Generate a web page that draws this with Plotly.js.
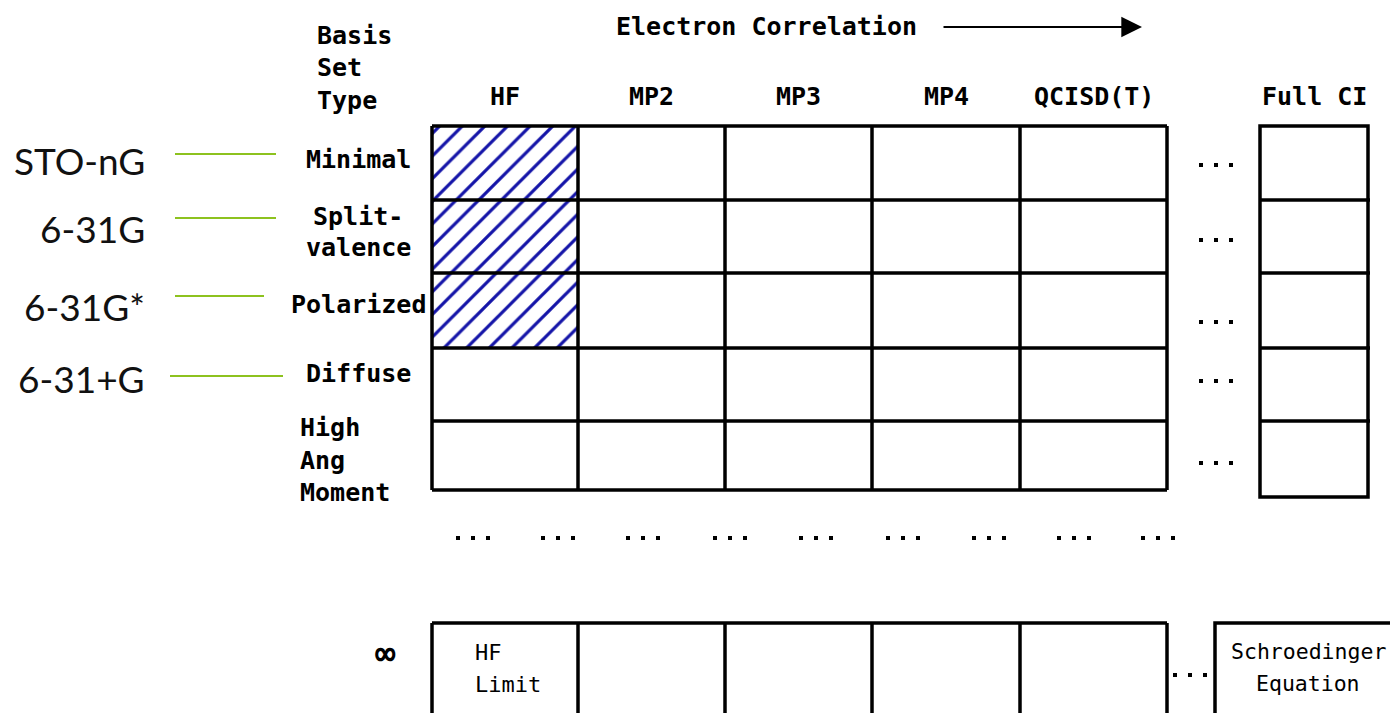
<!DOCTYPE html>
<html>
<head>
<meta charset="utf-8">
<script src="https://cdn.plot.ly/plotly-3.0.1.min.js"></script>
<style>html,body{margin:0;padding:0;background:#fff;}#chart{width:1390px;height:713px;}</style>
</head>
<body>
<div id="chart"></div>
<script>
// ---- content ----
const axisTitle = 'Electron Correlation';
const rowHeaderLines = ['Basis', 'Set', 'Type'];
const methods = ['HF', 'MP2', 'MP3', 'MP4', 'QCISD(T)'];
const limitMethod = 'Full CI';
const basisTypes = ['Minimal', 'Split-<br>valence', 'Polarized', 'Diffuse', 'High<br>Ang<br>Moment'];
const basisSetNames = ['STO-nG', '6-31G', '6-31G*', '6-31+G'];
const hatchedRows = [0, 1, 2];
const hatchedCols = [0, 0, 0];
const limitRowLabel = '\u221E';
const limitCellText = ['HF<br>Limit', '', '', '', ''];
const exactText = 'Schroedinger<br>Equation';

// ---- geometry (pixel-space axes) ----
const W = 1390, H = 713;
const colEdges = [432, 578, 725, 872, 1020, 1167];
const rowEdges = [126, 200, 273, 348, 421, 490];
const fullCI = {x0: 1260, x1: 1368, y0: 126, y1: 497};
const limitTop = 623;
const exactBox = {x0: 1215, x1: 1410};
const rowLabelY = [159, 232, 304, 373, 460];
const basisSetY = [160, 228, 306, 378];
const greenLines = [[175, 276, 154], [175, 276, 218], [175, 264, 296], [170, 283, 376]];
const sideDotsY = [165, 240, 322, 381, 463];
const midDotsX = [473, 558, 643, 730, 816, 903, 989, 1074, 1158];

const pix = "'DejaVu Sans Mono', 'Liberation Mono', monospace";
const shapes = [], annotations = [];
const LW = 3.5;
function line(x0, y0, x1, y1, color, w) {
  shapes.push({type: 'line', xref: 'x', yref: 'y', x0, y0, x1, y1, line: {color: color || '#000', width: w || LW}});
}
function text(x, y, t, size, opts) {
  opts = opts || {};
  const lines = t.split('<br>');
  const gap = opts.gap || size * 1.3;
  const start = y - gap * (lines.length - 1) / 2;
  lines.forEach((ln, i) => {
    annotations.push({xref: 'x', yref: 'y', x, y: start + i * gap, text: ln, showarrow: false,
      xanchor: opts.xanchor || 'center', yanchor: 'middle',
      font: {family: opts.family || pix, size, color: opts.color || '#000', weight: opts.weight || 'bold'}});
  });
}

// main grid
colEdges.forEach(x => line(x, rowEdges[0], x, rowEdges[rowEdges.length - 1]));
rowEdges.forEach(y => line(colEdges[0], y, colEdges[colEdges.length - 1], y));
// full CI column
shapes.push({type: 'rect', xref: 'x', yref: 'y', x0: fullCI.x0, x1: fullCI.x1, y0: fullCI.y0, y1: fullCI.y1, line: {color: '#000', width: LW}});
rowEdges.slice(1, -1).forEach(y => line(fullCI.x0, y, fullCI.x1 + 2, y));
// limit row
line(colEdges[0], limitTop, colEdges[colEdges.length - 1], limitTop);
colEdges.forEach(x => line(x, limitTop, x, H + 10));
shapes.push({type: 'rect', xref: 'x', yref: 'y', x0: exactBox.x0, x1: exactBox.x1, y0: limitTop, y1: H + 10, line: {color: '#000', width: LW}});
// green connectors
greenLines.forEach(g => line(g[0], g[2], g[1], g[2], '#8dc21f', 2));

// text
annotations.push({xref: 'x', yref: 'y', x: 1142, y: 27, ax: 942, ay: 27, axref: 'x', ayref: 'y', text: '',
  showarrow: true, arrowhead: 2, arrowsize: 2.3, arrowwidth: 1.8, arrowcolor: '#000'});
text(766, 26, axisTitle, 25);
rowHeaderLines.forEach((t, i) => text(315, 35 + i * 32.5, t, 25, {xanchor: 'left'}));
methods.forEach((m, i) => text((colEdges[i] + colEdges[i + 1]) / 2, 96, m, 25));
text((fullCI.x0 + fullCI.x1) / 2, 96, limitMethod, 25);
basisTypes.forEach((b, i) => {
  if (i === basisTypes.length - 1) text(298, rowLabelY[i], b, 25, {xanchor: 'left', gap: 32.5});
  else text(358, rowLabelY[i], b, 25, {gap: 31});
});
basisSetNames.forEach((b, i) => text(147, basisSetY[i], b, 37, {xanchor: 'right', family: 'Lato, sans-serif', weight: 'normal', color: '#111'}));
text(385, 653, limitRowLabel, 34);
limitCellText.forEach((t, i) => { if (t) text(colEdges[i] + 41, 668, t, 22, {xanchor: 'left', weight: 'normal', gap: 32}); });
text(1308, 667, exactText, 21.5, {weight: 'normal', gap: 32});

// hatched cells via scatter fill pattern
const traces = [];
hatchedRows.forEach((r, k) => {
  const c = hatchedCols[k];
  const x0 = colEdges[c], x1 = colEdges[c + 1], y0 = rowEdges[r], y1 = rowEdges[r + 1];
  traces.push({type: 'scatter', mode: 'lines', x: [x0, x1, x1, x0, x0], y: [y0, y0, y1, y1, y0],
    fill: 'toself', fillcolor: '#ffffff', line: {width: 0}, hoverinfo: 'skip', showlegend: false,
    fillpattern: {shape: '/', fgcolor: '#1414a8', bgcolor: '#ffffff', size: 16, solidity: 0.2}});
});
// ellipsis dots
const dx = [], dy = [];
function dots(cx, cy) { [-15, 0, 15].forEach(o => { dx.push(cx + o); dy.push(cy); }); }
sideDotsY.forEach(y => dots(1216, y));
midDotsX.forEach(x => dots(x, 538));
dots(1190, 675);
traces.push({type: 'scatter', mode: 'markers', x: dx, y: dy, marker: {symbol: 'square', size: 4, color: '#000'},
  hoverinfo: 'skip', showlegend: false});

Plotly.newPlot('chart', traces, {
  width: W, height: H, margin: {l: 0, r: 0, t: 0, b: 0},
  paper_bgcolor: '#fff', plot_bgcolor: '#fff',
  xaxis: {range: [0, W], visible: false, fixedrange: true},
  yaxis: {range: [H, 0], visible: false, fixedrange: true},
  shapes, annotations, showlegend: false
}, {staticPlot: true});
</script>
</body>
</html>
